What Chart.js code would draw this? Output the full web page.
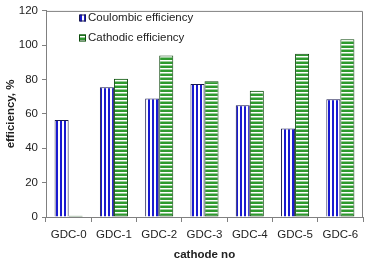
<!DOCTYPE html>
<html lang="en">
<head>
<meta charset="UTF-8">
<title>Efficiency</title>
<script src="https://cdn.jsdelivr.net/npm/chart.js@4.4.3/dist/chart.umd.min.js"></script>
<style>
  html, body { margin: 0; padding: 0; background: #fff; }
  #wrap { width: 365px; height: 262px; }
</style>
</head>
<body>
<div id="wrap"><canvas id="mychart" width="365" height="262"></canvas></div>
<script>
const categories = ['GDC-0', 'GDC-1', 'GDC-2', 'GDC-3', 'GDC-4', 'GDC-5', 'GDC-6'];
const coulombic = [56.5, 75.5, 69, 77.5, 65, 51.5, 68.5];
const cathodic = [0.8, 80.5, 94, 79, 73.5, 95, 103.5];
const yTicks = [0, 20, 40, 60, 80, 100, 120];

// striped fills
function makePattern(kind) {
    const c = document.createElement('canvas');
    c.width = 4; c.height = 4;
    const g = c.getContext('2d');
    if (kind === 'vertical') {
        g.fillStyle = '#ffffff';
        g.fillRect(0, 0, 4, 4);
        g.fillStyle = '#1a1ad0';
        g.fillRect(0, 0, 2, 4);
    } else {
        g.fillStyle = '#2e9a2e';
        g.fillRect(0, 0, 4, 4);
        g.fillStyle = '#ffffff';
        g.fillRect(0, 0, 4, 1.5);
    }
    return g.createPattern(c, 'repeat');
}

const blueStripes = makePattern('vertical');
const greenStripes = makePattern('horizontal');

// frame around plot + legend drawn inside the plot area
const framePlugin = {
    id: 'frame',
    afterDraw(chart) {
        const a = chart.chartArea;
        const ctx = chart.ctx;
        ctx.save();
        ctx.strokeStyle = '#808080';
        ctx.lineWidth = 1;
        ctx.beginPath();
        ctx.moveTo(a.left, a.top + 0.5);
        ctx.lineTo(a.right - 0.5, a.top + 0.5);
        ctx.lineTo(a.right - 0.5, a.bottom);
        ctx.stroke();

        ctx.font = '11.5px "Liberation Sans", Arial, sans-serif';
        ctx.textBaseline = 'middle';
        chart.data.datasets.forEach((ds, i) => {
            const x = 79, y = 18 + i * 20;
            ctx.fillStyle = ds.backgroundColor;
            ctx.fillRect(x, y - 3.5, 7, 7);
            ctx.strokeStyle = ds.borderColor;
            ctx.strokeRect(x + 0.5, y - 3, 6, 6);
            ctx.fillStyle = '#222';
            ctx.fillText(ds.label, x + 9, y);
        });
        ctx.restore();
    }
};

const data = {
    labels: categories,
    datasets: [
        {
            label: 'Coulombic efficiency',
            data: coulombic,
            backgroundColor: blueStripes,
            borderColor: '#1a1a50',
            borderWidth: 1,
            borderSkipped: 'bottom'
        },
        {
            label: 'Cathodic efficiency',
            data: cathodic,
            backgroundColor: greenStripes,
            borderColor: '#0f4a0f',
            borderWidth: 1,
            borderSkipped: false
        }
    ]
};

const config = {
    type: 'bar',
    data: data,
    options: {
        responsive: false,
        animation: false,
        layout: { padding: { top: 7, right: 2, left: 0, bottom: 0 } },
        datasets: {
            bar: { categoryPercentage: 0.62, barPercentage: 1.0 }
        },
        scales: {
            x: {
                grid: { display: true, drawOnChartArea: false, offset: true, tickLength: 5, color: '#808080' },
                border: { display: true, color: '#808080' },
                ticks: { color: '#222', font: { family: '"Liberation Sans", Arial', size: 11.5 }, padding: 6, maxRotation: 0 },
                title: { display: true, text: 'cathode no', color: '#222', font: { family: '"Liberation Sans", Arial', size: 11.5, weight: 'bold' }, padding: { top: 6, bottom: 0 } },
                afterFit(scale) { scale.height = 45; }
            },
            y: {
                min: 0,
                max: 120,
                afterBuildTicks(scale) { scale.ticks = yTicks.map(v => ({ value: v })); },
                grid: { display: true, drawOnChartArea: false, tickLength: 4, color: '#808080' },
                border: { display: true, color: '#808080' },
                ticks: { color: '#222', font: { family: '"Liberation Sans", Arial', size: 11.5 }, padding: 4 },
                title: { display: true, text: 'efficiency, %', color: '#222', font: { family: '"Liberation Sans", Arial', size: 11.5, weight: 'bold' }, padding: { top: 4, bottom: 0 } },
                afterFit(scale) { scale.width = 46; }
            }
        },
        plugins: {
            legend: { display: false },
            tooltip: { enabled: false }
        }
    },
    plugins: [framePlugin]
};

var mychart = new Chart(document.getElementById('mychart'), config);
</script>
</body>
</html>
